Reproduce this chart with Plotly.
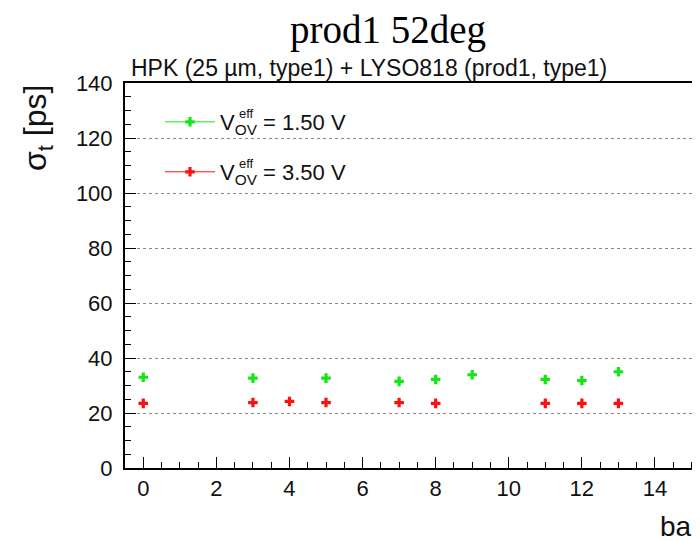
import plotly.graph_objects as go

# ---- data ----
bars_15 = [0, 3, 5, 7, 8, 9, 11, 12, 13]
sigma_15 = [33.0, 32.7, 32.7, 31.5, 32.2, 33.9, 32.2, 31.8, 35.0]
bars_35 = [0, 3, 4, 5, 7, 8, 11, 12, 13]
sigma_35 = [23.5, 23.8, 24.2, 23.8, 23.8, 23.5, 23.5, 23.5, 23.5]
label_15 = "V<sub>OV</sub> = 1.50 V"
label_35 = "V<sub>OV</sub> = 3.50 V"
x_ticks = [0, 2, 4, 6, 8, 10, 12, 14]
y_ticks = [0, 20, 40, 60, 80, 100, 120, 140]


def separated(vals):
    # insert gaps so no line joins the points (line only appears in legend)
    out = []
    for v in vals:
        out += [v, None]
    return out


OFF = 8  # page body margin
W, H = 700 - OFF, 541 - OFF
L, T = 125 - OFF, 83 - OFF
R = 0
B = H - (468 - OFF)
pw, ph = W - L - R, H - T - B


def px(sx):
    return (sx - OFF - L) / pw


def py(sy):
    return (H - B - (sy - OFF)) / ph


GREEN = "#14e614"
RED = "#ff1010"
FONT = "Liberation Sans, Arial, Helvetica, sans-serif"

fig = go.Figure()
fig.add_trace(go.Scatter(
    x=separated(bars_15), y=separated(sigma_15), mode="lines+markers", name=label_15,
    connectgaps=False,
    marker=dict(symbol="cross", size=8, color=GREEN, line=dict(width=0)),
    line=dict(color=GREEN, width=1), legend="legend"))
fig.add_trace(go.Scatter(
    x=separated(bars_35), y=separated(sigma_35), mode="lines+markers", name=label_35,
    connectgaps=False,
    marker=dict(symbol="cross", size=8, color=RED, line=dict(width=0)),
    line=dict(color=RED, width=1), legend="legend2"))

leg_common = dict(bgcolor="rgba(0,0,0,0)", borderwidth=0,
                  font=dict(family=FONT, size=22, color="#111"),
                  xanchor="left", yanchor="middle", itemwidth=50)

fig.update_layout(
    width=W, height=H,
    margin=dict(l=L, r=R, t=T, b=B, autoexpand=False),
    paper_bgcolor="white", plot_bgcolor="white",
    showlegend=True,
    legend=dict(x=px(160), y=py(122), **leg_common),
    legend2=dict(x=px(160), y=py(172), **leg_common),
    title=dict(text="prod1 52deg", x=(388 - OFF) / W, xanchor="center", xref="container",
               y=1 - (29 - OFF) / H, yanchor="middle", yref="container", automargin=False,
               font=dict(family="Liberation Serif, Times New Roman, serif", size=39, color="black")),
    font=dict(family=FONT, color="#111"),
)

fig.update_xaxes(
    range=[-0.5, (700 - 144) / 36.5], tickvals=x_ticks, ticktext=[str(v) for v in x_ticks],
    showgrid=False, zeroline=False, automargin=False,
    showline=True, linecolor="black", linewidth=2, mirror=True,
    ticks="inside", ticklen=11, tickwidth=1, tickcolor="black",
    minor=dict(dtick=0.5, tick0=0, ticks="inside", ticklen=6, tickcolor="black", showgrid=False),
    tickfont=dict(family=FONT, size=22, color="#111"),
)
fig.update_yaxes(
    range=[0, 140], tickvals=y_ticks, ticktext=[str(v) for v in y_ticks],
    showgrid=True, gridcolor="#888", griddash="dot", gridwidth=1,
    zeroline=False, automargin=False,
    showline=True, linecolor="black", linewidth=2, mirror=False,
    ticks="inside", ticklen=11, tickwidth=1, tickcolor="black",
    ticklabelstandoff=6,
    minor=dict(dtick=5, tick0=0, ticks="inside", ticklen=6, tickcolor="black", showgrid=False),
    tickfont=dict(family=FONT, size=22, color="#111"),
)

annos = [
    dict(text="HPK (25 \u00b5m, type1) + LYSO818 (prod1, type1)", x=px(129), y=py(68),
         xanchor="left", yanchor="middle", font=dict(family=FONT, size=23, color="#111")),
    dict(text="\u03c3<sub>t</sub> [ps]", x=px(37), y=py(83), textangle=-90,
         xanchor="center", yanchor="top", font=dict(family=FONT, size=32, color="#111")),
    dict(text="bar", x=px(658), y=py(526), xanchor="left", yanchor="middle",
         font=dict(family=FONT, size=28, color="#111")),
    dict(text="eff", x=px(237), y=py(113), xanchor="left", yanchor="middle",
         font=dict(family=FONT, size=13, color="#111")),
    dict(text="eff", x=px(237), y=py(163), xanchor="left", yanchor="middle",
         font=dict(family=FONT, size=13, color="#111")),
]
for a in annos:
    fig.add_annotation(xref="paper", yref="paper", showarrow=False, **a)

fig.write_html("out.html")
